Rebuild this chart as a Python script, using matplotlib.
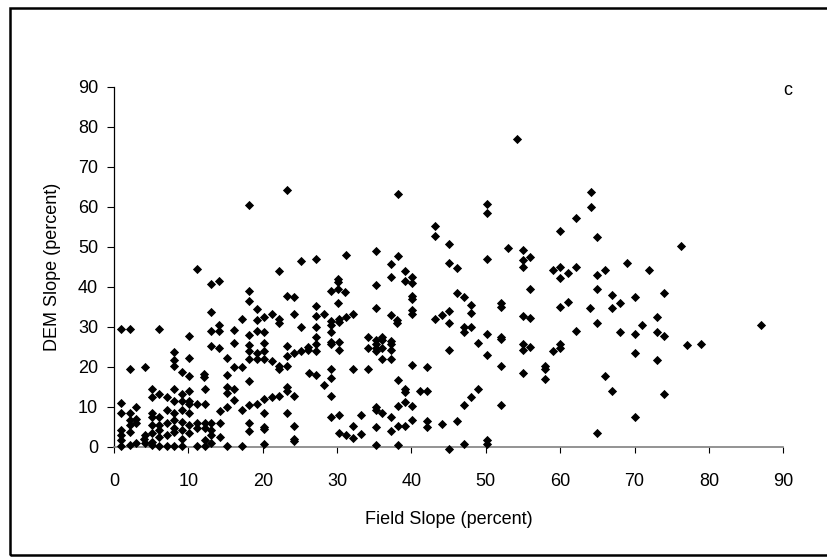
import matplotlib.pyplot as plt
from matplotlib.patches import Rectangle

plt.rcParams['font.family'] = ['Liberation Sans', 'DejaVu Sans']

# field-measured slope vs. slope derived from the DEM, both in percent
field_slope = [
    54.2, 23.2, 38.2, 18.2, 64.1, 64.1, 50.1, 50.1, 62.1, 43.1, 43.1, 60.0, 45.1, 65.0, 53.0, 76.2,
    35.2, 55.0, 55.0, 55.0, 56.0, 50.1, 31.2, 38.2, 27.2, 25.2, 45.1, 46.1, 37.2, 11.1, 22.2, 69.0,
    72.0, 66.0, 59.0, 60.0, 60.0, 61.1, 62.1, 65.0, 39.1, 37.2, 40.1, 40.1, 39.1, 13.1, 14.1, 30.1,
    30.1, 35.2, 29.2, 30.1, 31.1, 30.1, 65.0, 56.0, 40.1, 40.1, 46.1, 47.1, 74.0, 67.0, 68.0, 70.0,
    18.2, 18.2, 23.2, 24.2, 48.0, 48.0, 61.1, 52.1, 52.1, 60.0, 64.0, 67.0, 19.2, 27.2, 28.2, 35.2,
    40.1, 40.1, 37.2, 13.1, 24.2, 55.0, 56.0, 43.1, 44.1, 45.1, 45.1, 73.0, 21.2, 20.2, 19.2, 17.2,
    22.2, 22.2, 29.2, 29.2, 31.2, 32.2, 30.2, 30.2, 27.2, 38.1, 38.1, 71.0, 87.0, 65.0, 47.0, 48.0,
    47.0, 14.1, 13.1, 14.1, 0.9, 2.1, 6.1, 10.1, 16.2, 18.2, 19.2, 20.2, 25.2, 27.2, 29.2, 50.1,
    62.1, 68.0, 73.0, 70.0, 74.0, 34.2, 36.1, 36.1, 35.2, 37.2, 37.2, 35.2, 34.2, 35.2, 35.2, 36.1,
    37.2, 36.1, 37.2, 27.2, 26.1, 26.1, 25.2, 24.2, 27.2, 27.2, 29.2, 29.2, 30.2, 30.2, 23.2, 23.2,
    22.2, 22.2, 23.2, 18.2, 18.2, 18.2, 19.2, 19.2, 20.2, 20.2, 20.2, 16.2, 13.1, 14.1, 21.2, 45.1,
    49.0, 52.1, 52.1, 55.0, 55.0, 56.0, 60.0, 60.0, 59.0, 70.0, 77.0, 79.0, 50.1, 58.0, 58.0, 58.0,
    52.1, 42.1, 55.0, 73.0, 66.0, 32.2, 34.2, 29.2, 26.2, 27.2, 28.2, 29.2, 29.2, 40.1, 38.2, 39.1,
    39.1, 41.1, 42.1, 49.0, 48.0, 47.0, 67.0, 74.0, 52.1, 70.0, 65.0, 38.2, 40.1, 39.1, 35.2, 35.2,
    36.1, 37.2, 40.1, 42.1, 42.1, 44.1, 46.1, 33.2, 29.2, 30.2, 30.2, 31.2, 32.2, 33.2, 32.2, 35.2,
    37.2, 38.2, 39.1, 23.2, 24.2, 24.2, 24.2, 20.2, 20.2, 20.2, 20.2, 18.2, 18.2, 35.2, 38.2, 45.1,
    47.0, 50.1, 50.1, 18.2, 19.2, 20.2, 21.2, 22.2, 23.2, 23.2, 24.2, 17.2, 15.2, 14.2, 16.2, 15.2,
    15.2, 16.2, 15.2, 15.2, 16.2, 17.2, 18.2, 12.1, 12.1, 10.1, 9.1, 8.1, 8.1, 8.1, 10.1, 2.1,
    4.1, 5.1, 6.1, 7.1, 8.1, 9.1, 9.1, 10.1, 5.1, 8.1, 10.1, 10.1, 12.2, 11.1, 12.2, 0.9,
    0.9, 2.1, 2.1, 3.0, 3.0, 3.0, 2.1, 2.1, 0.9, 0.9, 0.9, 4.1, 4.1, 3.0, 0.9, 5.1,
    5.1, 5.1, 5.1, 5.1, 5.1, 6.1, 6.1, 6.1, 6.1, 6.1, 7.1, 7.1, 7.1, 8.1, 8.1, 8.1,
    8.1, 8.1, 9.1, 9.1, 9.1, 9.1, 10.1, 10.1, 10.1, 11.1, 11.1, 11.1, 12.2, 12.2, 12.2, 12.2,
    13.1, 13.1, 13.1, 13.1, 14.2, 14.2, 15.2, 17.2, 7.1, 9.1, 2.1, 4.0,
]
dem_slope = [
    76.9, 64.2, 63.1, 60.3, 63.7, 60.0, 60.7, 58.3, 57.1, 55.2, 52.6, 54.0, 50.6, 52.4, 49.6, 50.1,
    48.9, 49.1, 46.6, 45.0, 47.5, 46.9, 48.0, 47.7, 46.9, 46.3, 46.0, 44.7, 45.6, 44.5, 43.9, 46.0,
    44.2, 44.2, 44.1, 44.8, 42.2, 43.3, 45.0, 42.9, 43.8, 42.5, 42.5, 40.9, 41.3, 40.6, 41.5, 42.0,
    41.1, 40.5, 38.9, 39.5, 38.6, 35.8, 39.3, 39.3, 37.6, 36.9, 38.3, 37.3, 38.3, 37.9, 36.0, 37.4,
    39.0, 36.5, 37.6, 37.3, 35.3, 33.3, 36.2, 36.0, 34.9, 34.9, 34.7, 34.7, 34.4, 35.1, 33.1, 34.7,
    34.2, 33.1, 32.9, 33.6, 33.2, 32.7, 32.2, 32.0, 32.9, 33.8, 30.9, 32.4, 33.1, 32.3, 31.7, 31.9,
    32.0, 31.0, 31.4, 30.5, 32.4, 33.1, 31.8, 31.2, 32.7, 31.6, 30.9, 30.5, 30.5, 30.9, 30.0, 30.0,
    28.7, 30.5, 28.9, 28.9, 29.5, 29.5, 29.5, 27.7, 29.2, 28.0, 29.0, 28.6, 30.0, 30.0, 28.7, 28.1,
    28.9, 28.7, 28.7, 28.2, 27.6, 27.4, 27.4, 26.6, 26.7, 26.5, 25.6, 25.6, 24.7, 24.7, 23.8, 24.7,
    24.2, 22.0, 22.0, 27.3, 25.0, 24.2, 24.0, 23.4, 25.6, 23.8, 26.2, 25.6, 26.2, 24.2, 25.1, 22.6,
    20.2, 19.4, 20.2, 25.3, 23.8, 21.8, 23.4, 21.8, 21.8, 26.0, 23.8, 25.8, 25.1, 24.7, 21.3, 24.1,
    26.0, 27.4, 26.9, 25.6, 24.2, 24.9, 25.6, 24.7, 23.8, 23.4, 25.3, 25.6, 22.8, 20.2, 19.5, 17.0,
    20.2, 19.8, 18.5, 21.6, 17.6, 19.5, 19.5, 19.5, 18.5, 17.9, 15.4, 17.1, 12.7, 20.5, 16.7, 14.5,
    13.6, 13.8, 13.9, 14.3, 12.3, 10.3, 14.0, 13.1, 10.5, 7.4, 3.4, 10.2, 10.2, 11.1, 10.0, 9.1,
    8.3, 7.4, 6.7, 6.5, 4.9, 5.6, 6.5, 7.8, 7.4, 7.8, 3.4, 2.9, 2.2, 3.1, 5.2, 4.9,
    4.0, 5.2, 5.2, 8.3, 5.2, 2.0, 1.3, 8.3, 4.9, 4.3, 0.7, 6.0, 3.8, 0.4, 0.3, -0.5,
    0.7, 1.6, 0.7, 10.3, 10.6, 11.8, 12.3, 12.7, 13.8, 14.9, 12.7, 9.1, 10.0, 9.0, 14.5, 14.9,
    13.3, 11.6, 17.9, 22.2, 19.9, 19.9, 16.4, 18.1, 17.4, 17.6, 18.7, 21.6, 20.1, 23.6, 22.2, 19.3,
    19.9, 14.5, 13.1, 12.4, 14.3, 13.1, 11.4, 13.9, 12.3, 11.4, 11.4, 10.6, 14.3, 10.6, 10.6, 10.9,
    8.3, 8.3, 6.6, 10.0, 6.8, 6.0, 5.4, 3.7, 4.1, 2.9, 1.7, 2.9, 0.8, 0.8, 0.2, 8.3,
    7.5, 5.4, 3.5, 1.2, 0.4, 7.5, 5.4, 4.1, 2.5, 0.2, 5.8, 2.9, 0.2, 8.3, 6.6, 4.6,
    3.7, 0.2, 6.2, 4.1, 1.8, 0.2, 8.5, 5.4, 3.5, 5.8, 4.6, 0.2, 5.8, 4.6, 1.7, 0.2,
    5.8, 4.1, 2.9, 1.0, 6.0, 2.5, 0.2, 0.2, 9.1, 9.1, 0.5, 1.8,
]
ticks = list(range(0, 100, 10))

fig = plt.figure(figsize=(8.28, 5.59), dpi=100)
ax = fig.add_axes([0.1377, 0.2009, 0.8083, 0.644])

ax.scatter(field_slope, dem_slope, marker='D', s=22, color='black',
           linewidths=0, clip_on=False, zorder=3)

ax.set_xlim(0, 90)
ax.set_ylim(0, 90)
ax.set_xticks(ticks)
ax.set_yticks(ticks)
ax.tick_params(axis='both', direction='out', width=0.8,
               labelsize=13, colors='black')
ax.tick_params(axis='x', length=4, pad=15)
ax.tick_params(axis='y', length=5, pad=6.5)

for side in ['top', 'right']:
    ax.spines[side].set_visible(False)
ax.spines['left'].set_linewidth(0.9)
ax.spines['bottom'].set_color('#808080')
ax.spines['bottom'].set_linewidth(1.2)

ax.set_xlabel('Field Slope (percent)', fontsize=13, labelpad=15)
ax.set_ylabel('DEM Slope (percent)', fontsize=13, labelpad=12)
ax.text(90.0, 89, 'c', fontsize=13, ha='left', va='center', clip_on=False)

# outer frame around the panel
fig.patches.append(Rectangle((0.012, 0.007), 1.0, 0.9787, transform=fig.transFigure,
                             fill=False, edgecolor='black', linewidth=1.8))

fig.savefig('out.png', dpi=100)
